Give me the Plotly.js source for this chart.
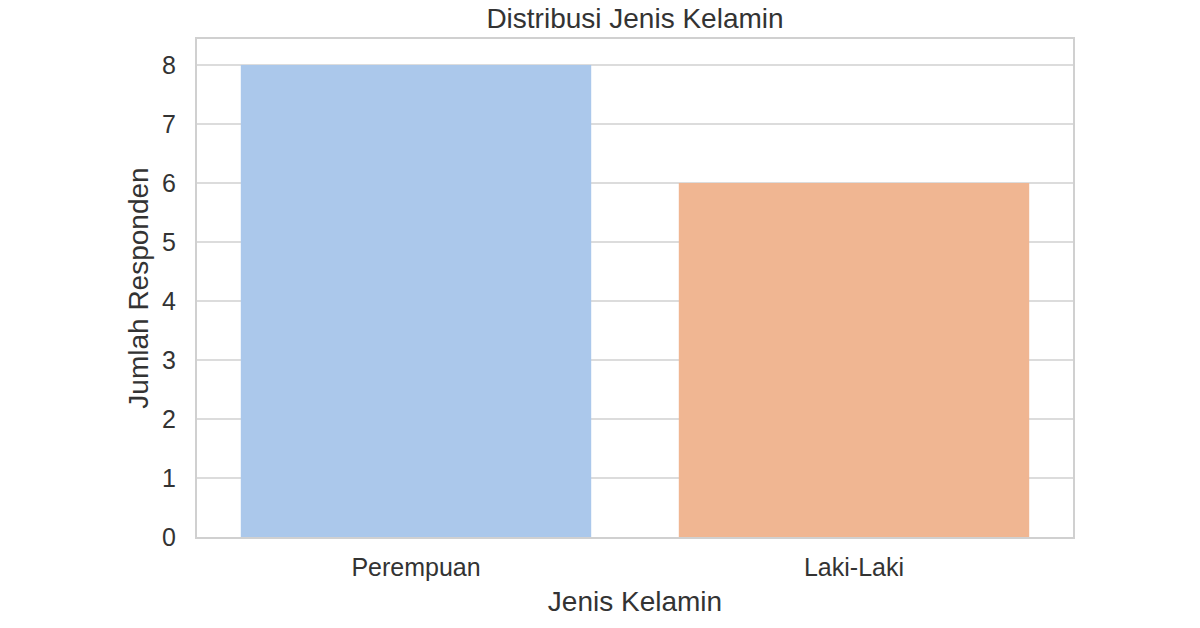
<!DOCTYPE html>
<html>
<head>
<meta charset="utf-8">
<script src="https://cdn.plot.ly/plotly-3.0.1.min.js"></script>
<style>
  html, body { margin: 0; padding: 0; background: #fff; }
  #chart { width: 1200px; height: 628px; }
</style>
</head>
<body>
<div id="chart"></div>
<script>
const categories = ['Perempuan', 'Laki-Laki'];
const counts = [8, 6];
const barColors = ['#abc8eb', '#f0b692'];
const yTicks = [0, 1, 2, 3, 4, 5, 6, 7, 8];

const FONT = 'Liberation Sans, Arial, sans-serif';
const TEXT = '#333333';

Plotly.newPlot('chart', [{
  type: 'bar',
  x: categories,
  y: counts,
  width: 0.8,
  marker: { color: barColors, line: { width: 0 } },
  hoverinfo: 'x+y',
}], {
  width: 1200,
  height: 628,
  paper_bgcolor: '#ffffff',
  plot_bgcolor: '#ffffff',
  font: { family: FONT, color: TEXT, size: 25 },
  margin: { l: 197, r: 127, t: 39, b: 91 },
  title: {
    text: 'Distribusi Jenis Kelamin',
    font: { family: FONT, size: 28, color: TEXT },
    xref: 'paper', x: 0.5, xanchor: 'center',
    y: 0.971, yanchor: 'middle',
  },
  xaxis: {
    range: [-0.5, 1.5],
    showgrid: false,
    zeroline: false,
    showline: true, mirror: true,
    linecolor: '#d0d0d0', linewidth: 2,
    ticks: 'outside', ticklen: 7, tickcolor: 'rgba(0,0,0,0)',
    tickfont: { size: 25, color: TEXT },
    title: { text: 'Jenis Kelamin', font: { size: 28, color: TEXT }, standoff: 11 },
  },
  yaxis: {
    range: [0, 8.44],
    tickvals: yTicks,
    showgrid: true, gridcolor: '#dcdcdc', gridwidth: 1.5,
    zeroline: false,
    showline: true, mirror: true,
    linecolor: '#d0d0d0', linewidth: 2,
    ticks: 'outside', ticklen: 14, tickcolor: 'rgba(0,0,0,0)',
    tickfont: { size: 25, color: TEXT },
    title: { text: 'Jumlah Responden', font: { size: 28, color: TEXT }, standoff: 5 },
  },
  showlegend: false,
}, { displayModeBar: false, staticPlot: true });
</script>
</body>
</html>
